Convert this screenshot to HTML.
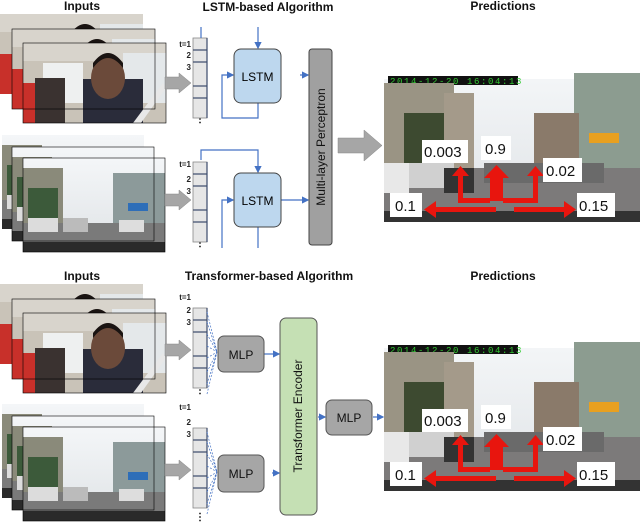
<!DOCTYPE html>
<html><head><meta charset="utf-8"><style>
body{margin:0;background:#fff}
svg{display:block;font-family:"Liberation Sans",sans-serif}
</style></head><body>
<svg width="640" height="522" viewBox="0 0 640 522" xmlns="http://www.w3.org/2000/svg">
<defs>
<linearGradient id="sky" x1="0" y1="0" x2="0" y2="1"><stop offset="0" stop-color="#f4f6f8"/><stop offset="1" stop-color="#dfe3e6"/></linearGradient>
<g id="car">
<rect width="143" height="80" fill="#c9c3b8"/>
<rect width="143" height="18" fill="#d8d4cc"/>
<rect x="20" y="20" width="40" height="40" fill="#eef0f0"/>
<rect x="100" y="10" width="43" height="50" fill="#e4e8ea"/>
<rect x="0" y="40" width="35" height="40" fill="#c8302a"/>
<rect x="12" y="35" width="30" height="45" fill="#3a3230"/>
<rect x="60" y="36" width="60" height="44" fill="#2a2c3a"/>
<ellipse cx="85" cy="35" rx="17" ry="21" fill="#6b4a3a"/>
<path d="M70 25 Q85 5 100 25 L100 20 Q85 0 70 20Z" fill="#1a1412"/>
<path d="M110 80 L140 40 L143 45 L118 80Z" fill="#e8e8e8"/>
</g>
<g id="street">
<rect width="142" height="94" fill="url(#sky)"/>
<rect x="0" y="10" width="40" height="70" fill="#8a8a7a"/>
<rect x="5" y="30" width="30" height="40" fill="#3c5a3a"/>
<rect x="90" y="15" width="52" height="65" fill="#8c9a9a"/>
<rect x="105" y="45" width="20" height="8" fill="#2e6eb8"/>
<rect x="0" y="65" width="142" height="29" fill="#7a7a7a"/>
<rect x="5" y="60" width="30" height="14" fill="#dcdcdc"/>
<rect x="40" y="60" width="25" height="14" fill="#bbb"/>
<rect x="96" y="62" width="25" height="12" fill="#ddd"/>
<rect x="0" y="84" width="142" height="10" fill="#2a2a2a"/>
</g>
<g id="pred">
<rect width="256" height="149" fill="url(#sky)"/>
<rect x="0" y="0" width="256" height="6" fill="#fff"/>
<rect x="4" y="3" width="130" height="9" fill="#111"/>
<text x="6" y="11" font-size="9" fill="#3c3" letter-spacing="1.6" font-family="Liberation Mono">2014-12-20 16:04:13</text>
<rect x="0" y="10" width="70" height="100" fill="#9a9484"/>
<rect x="20" y="40" width="40" height="70" fill="#3d4a30"/>
<rect x="60" y="20" width="30" height="90" fill="#a49a8a"/>
<rect x="190" y="0" width="66" height="120" fill="#8c9c90"/>
<rect x="150" y="40" width="45" height="80" fill="#8a7a6a"/>
<rect x="205" y="60" width="30" height="10" fill="#e8a020"/>
<rect x="0" y="95" width="256" height="54" fill="#7c7a7a"/>
<rect x="0" y="90" width="25" height="30" fill="#e8e8e8"/>
<rect x="25" y="90" width="45" height="25" fill="#d0d0d0"/>
<rect x="60" y="95" width="30" height="25" fill="#333"/>
<rect x="100" y="90" width="120" height="20" fill="#6a6a6a"/>
<rect x="0" y="138" width="256" height="11" fill="#333"/>
<g fill="#e8150e">
<rect x="106" y="104" width="13" height="24"/><polygon points="100,105 112.5,92 125,105"/>
<rect x="52" y="134" width="60" height="5"/><polygon points="52,128 40,136.5 52,145"/>
<rect x="130" y="134" width="50" height="5"/><polygon points="180,128 192,136.5 180,145"/>
<rect x="74" y="102" width="5" height="28"/><rect x="74" y="125" width="32" height="5"/><polygon points="68,103 76.5,93 85,103"/>
<rect x="149" y="102" width="5" height="28"/><rect x="119" y="125" width="35" height="5"/><polygon points="143,103 151.5,93 160,103"/>
</g>
<g font-size="15" fill="#111">
<rect x="38" y="67" width="46" height="23" fill="#fff"/><text x="40" y="84">0.003</text>
<rect x="97" y="63" width="30" height="24" fill="#fff"/><text x="101" y="81">0.9</text>
<rect x="159" y="85" width="39" height="24" fill="#fff"/><text x="162" y="103">0.02</text>
<rect x="6" y="120" width="32" height="24" fill="#fff"/><text x="11" y="138">0.1</text>
<rect x="193" y="120" width="38" height="24" fill="#fff"/><text x="195" y="138">0.15</text>
</g>
</g>
<g id="col">
<rect width="14" height="80" fill="#e6e6e6" stroke="#888" stroke-width="0.8"/>
<g stroke="#3a4a6a" stroke-width="1.2"><line x1="0" y1="12" x2="14" y2="12"/><line x1="0" y1="24" x2="14" y2="24"/><line x1="0" y1="48" x2="14" y2="48"/><line x1="0" y1="60" x2="14" y2="60"/></g>
<line x1="14" y1="0" x2="14" y2="80" stroke="#3a4a6a" stroke-width="1.2"/>
</g>
<g id="garr"><polygon points="0,4 14,4 14,0 26,10 14,20 14,16 0,16" fill="#a6a6a6" stroke="#888" stroke-width="0.5"/></g>
<marker id="ah" markerWidth="6" markerHeight="6" refX="5" refY="3" orient="auto"><path d="M0,0 L6,3 L0,6Z" fill="#4472c4"/></marker>
</defs>

<g font-weight="bold" font-size="12" fill="#111" text-anchor="middle">
<text x="82" y="10">Inputs</text><text x="268" y="11">LSTM-based Algorithm</text><text x="503" y="10">Predictions</text>
<text x="82" y="280">Inputs</text><text x="269" y="280">Transformer-based Algorithm</text><text x="503" y="280">Predictions</text>
</g>

<use href="#car" x="0" y="14"/><use href="#car" x="12" y="29"/><use href="#car" x="23" y="43"/>
<g stroke="#000" stroke-width="0.6" fill="none"><rect x="12" y="29" width="143" height="80"/><rect x="23" y="43" width="143" height="80"/></g>
<use href="#street" x="2" y="135"/><use href="#street" x="12" y="147"/><use href="#street" x="23" y="158"/>
<g stroke="#000" stroke-width="0.6" fill="none"><rect x="12" y="147" width="142" height="94"/><rect x="23" y="158" width="142" height="94"/></g>
<use href="#garr" x="165" y="73"/><use href="#garr" x="165" y="190"/>

<g font-size="8" font-weight="bold" fill="#222" text-anchor="end"><text x="191" y="47">t=1</text><text x="191" y="58">2</text><text x="191" y="70">3</text><text x="191" y="167">t=1</text><text x="191" y="182">2</text><text x="191" y="194">3</text><text x="191" y="410">t=1</text><text x="191" y="425">2</text><text x="191" y="437">3</text><text x="191" y="300">t=1</text><text x="191" y="313">2</text><text x="191" y="325">3</text></g>
<text x="200" y="122" font-size="10" font-weight="bold" text-anchor="middle">⋮</text>
<text x="200" y="246" font-size="10" font-weight="bold" text-anchor="middle">⋮</text>
<text x="200" y="393" font-size="10" font-weight="bold" text-anchor="middle">⋮</text>
<text x="200" y="520" font-size="10" font-weight="bold" text-anchor="middle">⋮</text>

<use href="#col" x="193" y="38"/><use href="#col" x="193" y="162"/>
<g stroke="#4472c4" stroke-width="1.2" fill="none">
<line x1="201" y1="27" x2="201" y2="38"/>
<line x1="258" y1="27" x2="258" y2="48" marker-end="url(#ah)"/>
<polyline points="258,103 258,118 222,118 222,75 233,75" marker-end="url(#ah)"/>
<line x1="300" y1="75" x2="308" y2="75" marker-end="url(#ah)"/>
<polyline points="201,160 201,150 258,150 258,172" marker-end="url(#ah)"/>
<polyline points="222,248 222,200 233,200" marker-end="url(#ah)"/>
<line x1="258" y1="227" x2="258" y2="248"/>
<line x1="281" y1="200" x2="308" y2="200" marker-end="url(#ah)"/>
</g>
<rect x="234" y="49" width="47" height="54" rx="7" fill="#bdd7ee" stroke="#444" stroke-width="1"/>
<rect x="234" y="173" width="47" height="54" rx="7" fill="#bdd7ee" stroke="#444" stroke-width="1"/>
<text x="257.5" y="81" font-size="12" text-anchor="middle">LSTM</text>
<text x="257.5" y="205" font-size="12" text-anchor="middle">LSTM</text>
<rect x="309" y="49" width="23" height="196" rx="3" fill="#a0a0a0" stroke="#444"/>
<text transform="translate(325,147) rotate(-90)" font-size="12" text-anchor="middle" fill="#111">Multi-layer Perceptron</text>
<polygon points="338,138 364,138 364,130 382,145.5 364,161 364,153 338,153" fill="#a6a6a6" stroke="#888" stroke-width="0.5"/>
<use href="#pred" x="384" y="73"/>

<use href="#car" x="0" y="284"/><use href="#car" x="12" y="299"/><use href="#car" x="23" y="313"/>
<g stroke="#000" stroke-width="0.6" fill="none"><rect x="12" y="299" width="143" height="80"/><rect x="23" y="313" width="143" height="80"/></g>
<use href="#street" x="2" y="404"/><use href="#street" x="12" y="416"/><use href="#street" x="23" y="427"/>
<g stroke="#000" stroke-width="0.6" fill="none"><rect x="12" y="416" width="142" height="94"/><rect x="23" y="427" width="142" height="94"/></g>
<use href="#garr" x="165" y="340"/><use href="#garr" x="165" y="460"/>

<use href="#col" x="193" y="308"/><use href="#col" x="193" y="428"/>
<g stroke="#4472c4" stroke-width="0.7" stroke-dasharray="2,1.5" fill="none">
<path d="M207,312 L217,352 M207,322 L217,352 M207,334 L217,352 M207,346 L217,352 M207,358 L217,352 M207,372 L217,352 M207,384 L217,352 M207,394 L217,352"/>
<path d="M207,432 L217,472 M207,442 L217,472 M207,454 L217,472 M207,466 L217,472 M207,478 L217,472 M207,492 L217,472 M207,504 L217,472 M207,514 L217,472"/>
</g>
<g stroke="#4472c4" stroke-width="1.2" fill="none">
<line x1="264" y1="354" x2="279" y2="354" marker-end="url(#ah)"/>
<line x1="272" y1="473" x2="279" y2="473" marker-end="url(#ah)"/>
<line x1="318" y1="417" x2="325" y2="417" marker-end="url(#ah)"/>
<line x1="373" y1="417" x2="383" y2="417" marker-end="url(#ah)"/>
</g>
<rect x="218" y="336" width="46" height="36" rx="6" fill="#a6a6a6" stroke="#555"/>
<rect x="218" y="455" width="46" height="37" rx="6" fill="#a6a6a6" stroke="#555"/>
<rect x="326" y="400" width="46" height="35" rx="6" fill="#a6a6a6" stroke="#555"/>
<g font-size="12" text-anchor="middle" fill="#111"><text x="241" y="359">MLP</text><text x="241" y="478">MLP</text><text x="349" y="422">MLP</text></g>
<rect x="280" y="318" width="37" height="197" rx="6" fill="#c5e0b4" stroke="#555"/>
<text transform="translate(302,416) rotate(-90)" font-size="12" text-anchor="middle" fill="#111">Transformer Encoder</text>
<use href="#pred" x="384" y="342"/>
</svg>
</body></html>
